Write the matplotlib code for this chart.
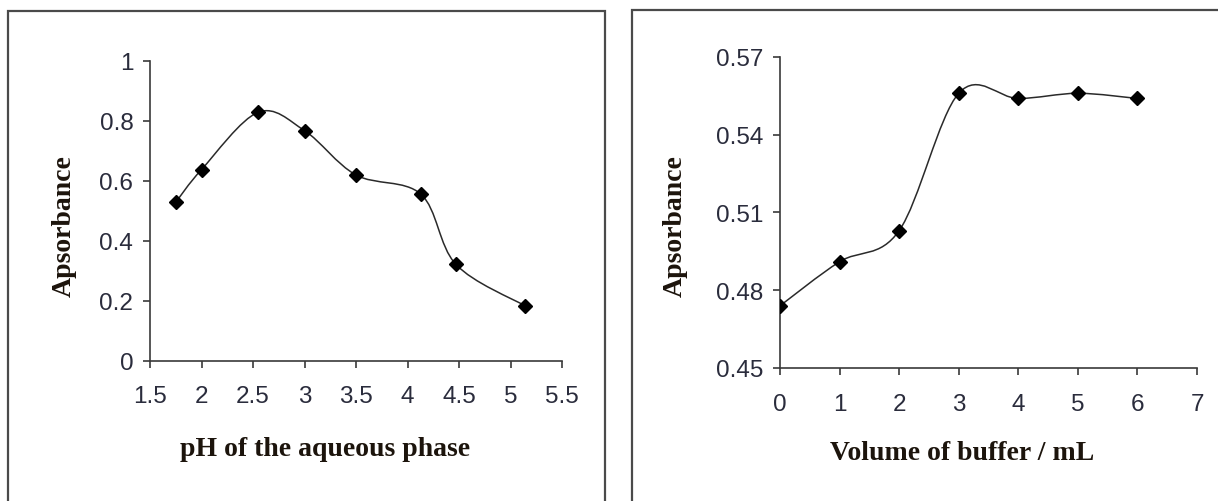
import matplotlib
matplotlib.use("Agg")
import matplotlib.pyplot as plt
from matplotlib.path import Path
from matplotlib.patches import PathPatch, Rectangle

# Left panel: effect of pH
ph = [1.75, 2.0, 2.55, 3.0, 3.5, 4.13, 4.47, 5.14]
abs_ph = [0.529, 0.638, 0.829, 0.768, 0.620, 0.556, 0.322, 0.184]
ph_ticks = [1.5, 2.0, 2.5, 3.0, 3.5, 4.0, 4.5, 5.0, 5.5]
ph_ticklabels = ["1.5", "2", "2.5", "3", "3.5", "4", "4.5", "5", "5.5"]
abs_ph_ticks = [0.0, 0.2, 0.4, 0.6, 0.8, 1.0]
abs_ph_ticklabels = ["0", "0.2", "0.4", "0.6", "0.8", "1"]

# Right panel: effect of buffer volume
buffer_ml = [0, 1, 2, 3, 4, 5, 6]
abs_buffer = [0.474, 0.491, 0.503, 0.556, 0.554, 0.556, 0.554]
buffer_ticks = [0, 1, 2, 3, 4, 5, 6, 7]
buffer_ticklabels = ["0", "1", "2", "3", "4", "5", "6", "7"]
abs_buffer_ticks = [0.45, 0.48, 0.51, 0.54, 0.57]
abs_buffer_ticklabels = ["0.45", "0.48", "0.51", "0.54", "0.57"]

W, H = 1218, 502
TICK_COLOR = "#2a2c3c"
TITLE_COLOR = "#1c140c"


def smooth_path(x, y):
    # Excel-style smoothed line: cubic Bezier through every point
    pts = list(zip(x, y))
    n = len(pts)
    verts = [pts[0]]
    codes = [Path.MOVETO]
    for i in range(n - 1):
        p0 = pts[i - 1] if i > 0 else pts[i]
        p1 = pts[i]
        p2 = pts[i + 1]
        p3 = pts[i + 2] if i + 2 < n else pts[i + 1]
        c1 = (p1[0] + (p2[0] - p0[0]) / 6, p1[1] + (p2[1] - p0[1]) / 6)
        c2 = (p2[0] - (p3[0] - p1[0]) / 6, p2[1] - (p3[1] - p1[1]) / 6)
        verts += [c1, c2, p2]
        codes += [Path.CURVE4] * 3
    return Path(verts, codes)


def px_axes(fig, x0, x1, ytop, ybot):
    return fig.add_axes([x0 / W, 1 - ybot / H, (x1 - x0) / W, (ybot - ytop) / H])


def style(ax, xpad, size):
    for s in ("top", "right"):
        ax.spines[s].set_visible(False)
    for s in ("left", "bottom"):
        ax.spines[s].set_color("#3a3a3a")
        ax.spines[s].set_linewidth(1.2)
    ax.tick_params(direction="out", length=5, width=1.2, color="#3a3a3a",
                   labelcolor=TICK_COLOR, labelsize=size)
    ax.tick_params(axis="x", pad=xpad)
    ax.tick_params(axis="y", pad=7)
    for lab in ax.get_xticklabels() + ax.get_yticklabels():
        lab.set_family("Liberation Sans")


def draw(ax, x, y):
    ax.add_patch(PathPatch(smooth_path(x, y), fill=False, lw=1.1,
                           edgecolor="#2a2a2a", zorder=2))
    ax.plot(x, y, ls="none", marker="D", ms=7.2, color="black", zorder=3)


fig = plt.figure(figsize=(W / 100, H / 100), dpi=100)

# outer chart frames
fig.add_artist(Rectangle((8 / W, -0.05), (605 - 8) / W, 1.05 - 12 / H,
                         transform=fig.transFigure, fill=False, lw=1.6, ec="#4a4a4a"))
fig.add_artist(Rectangle((632 / W, -0.05), (1240 - 632) / W, 1.05 - 11 / H,
                         transform=fig.transFigure, fill=False, lw=1.6, ec="#4a4a4a"))

ax1 = px_axes(fig, 150, 562, 62, 362)
draw(ax1, ph, abs_ph)
ax1.set_xlim(1.5, 5.5)
ax1.set_ylim(0, 1)
ax1.set_xticks(ph_ticks, ph_ticklabels)
ax1.set_yticks(abs_ph_ticks, abs_ph_ticklabels)
style(ax1, 12, 17.5)

ax2 = px_axes(fig, 780, 1197, 58, 369)
draw(ax2, buffer_ml, abs_buffer)
ax2.set_xlim(0, 7)
ax2.set_ylim(0.45, 0.57)
ax2.set_xticks(buffer_ticks, buffer_ticklabels)
ax2.set_yticks(abs_buffer_ticks, abs_buffer_ticklabels)
style(ax2, 13, 17.5)

title_kw = dict(family="Liberation Serif", weight="bold", fontsize=20, color=TITLE_COLOR)
fig.text(64 / W, 1 - 226 / H, "Apsorbance", rotation=90, ha="center", va="center", **title_kw)
fig.text(675 / W, 1 - 226 / H, "Apsorbance", rotation=90, ha="center", va="center", **title_kw)
fig.text(325 / W, 1 - 456 / H, "pH of the aqueous phase", ha="center", va="baseline", **title_kw)
fig.text(962 / W, 1 - 460 / H, "Volume of buffer / mL", ha="center", va="baseline", **title_kw)

fig.savefig("out.png", dpi=100)
